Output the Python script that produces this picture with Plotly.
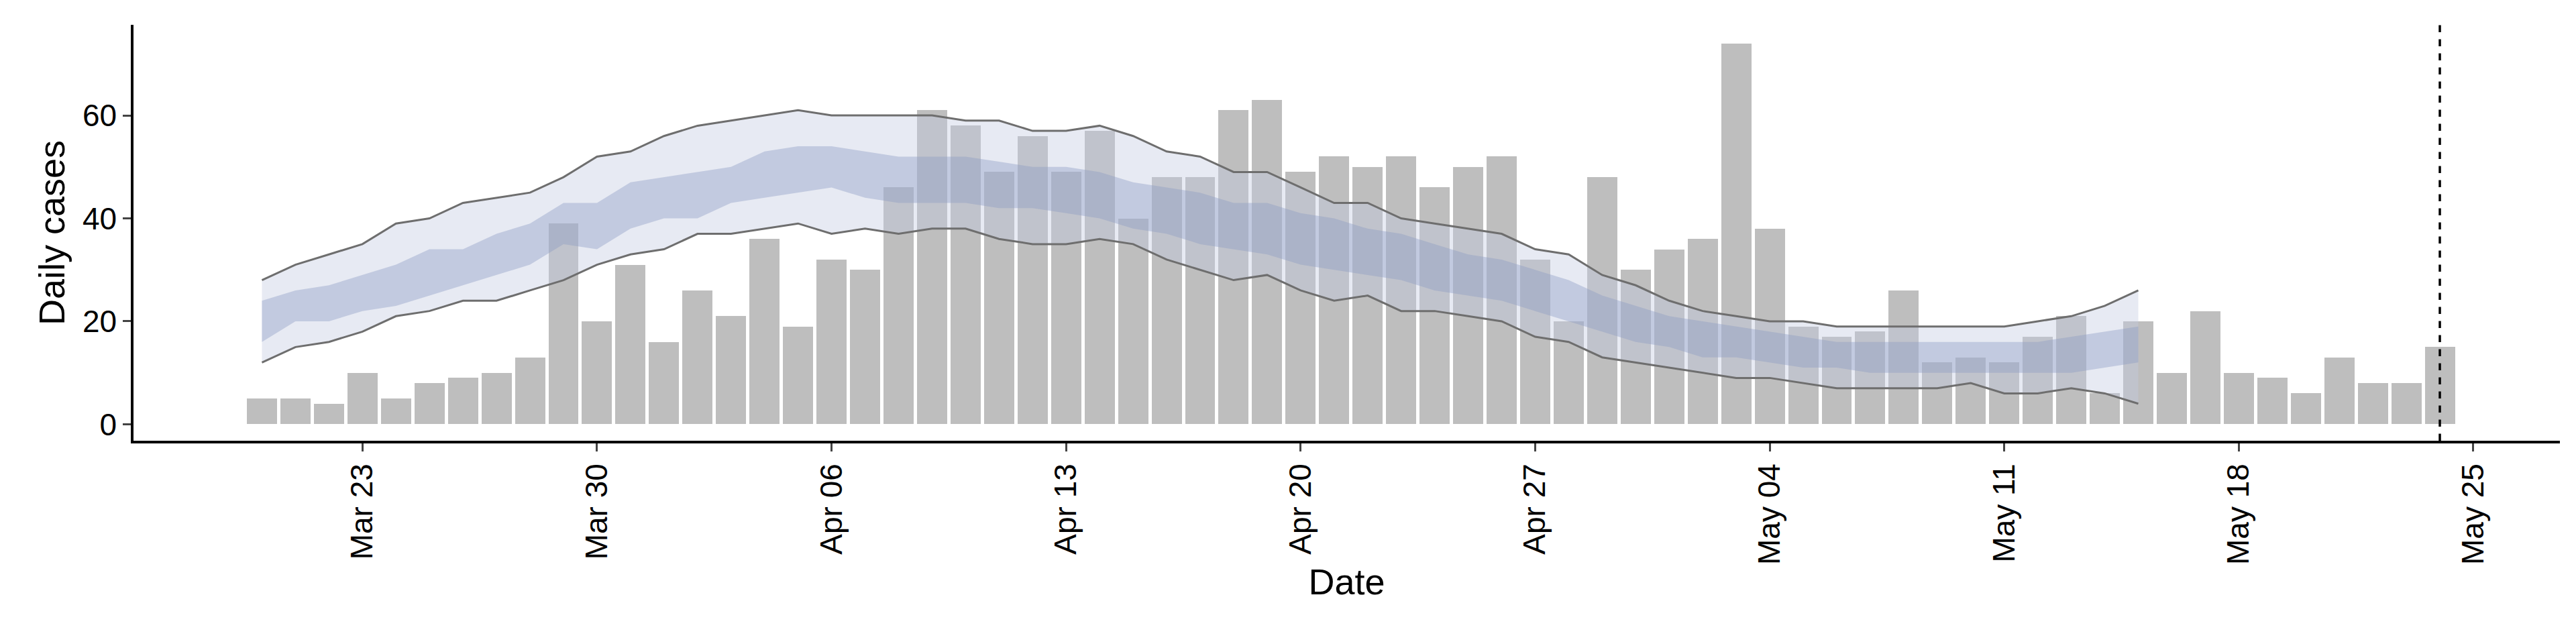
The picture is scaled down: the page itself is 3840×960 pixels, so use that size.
import pandas as pd
import plotly.graph_objects as go

# daily reported cases, Mar 20 - May 24
cases = [5, 5, 4, 10, 5, 8, 9, 10, 13, 39, 20, 31,
         16, 26, 21, 36, 19, 32, 30, 46, 61, 58, 49, 56, 49, 57, 40, 48, 48, 61,
         63, 49, 52, 50, 52, 46, 50, 52, 32, 20, 48, 30,
         34, 36, 74, 38, 19, 17, 18, 26, 12, 13, 12, 17, 21, 6, 20, 10, 22, 10,
         9, 6, 13, 8, 8, 15]
case_dates = pd.date_range("2020-03-20", periods=len(cases), freq="D")

# model bands, Mar 20 - May 15
outer_hi = [28, 31, 33, 35, 39, 40, 43, 44, 45, 48, 52, 53, 56, 58, 59, 60, 61, 60, 60, 60,
            60, 59, 59, 57, 57, 58, 56, 53, 52, 49, 49, 46, 43, 43, 40, 39, 38, 37, 34, 33,
            29, 27, 24, 22, 21, 20, 20, 19, 19, 19, 19, 19, 19, 20, 21, 23, 26]
outer_lo = [12, 15, 16, 18, 21, 22, 24, 24, 26, 28, 31, 33, 34, 37, 37, 38, 39, 37, 38, 37,
            38, 38, 36, 35, 35, 36, 35, 32, 30, 28, 29, 26, 24, 25, 22, 22, 21, 20, 17, 16,
            13, 12, 11, 10, 9, 9, 8, 7, 7, 7, 7, 8, 6, 6, 7, 6, 4]
mid_hi = [24, 26, 27, 29, 31, 34, 34, 37, 39, 43, 43, 47, 48, 49, 50, 53, 54, 54, 53, 52,
          52, 52, 51, 50, 50, 49, 47, 46, 45, 43, 43, 41, 40, 38, 37, 35, 33, 32, 30, 28,
          25, 23, 21, 20, 19, 18, 17, 16, 16, 16, 16, 16, 16, 16, 17, 18, 19]
mid_lo = [16, 20, 20, 22, 23, 25, 27, 29, 31, 35, 34, 38, 40, 40, 43, 44, 45, 46, 44, 43,
          43, 43, 42, 42, 41, 40, 38, 37, 35, 34, 33, 31, 30, 29, 28, 26, 25, 24, 22, 20,
          18, 16, 15, 13, 13, 12, 11, 11, 10, 10, 10, 10, 10, 10, 10, 11, 12]
band_dates = pd.date_range("2020-03-20", periods=len(outer_hi), freq="D")

tick_dates = pd.date_range("2020-03-23", "2020-05-25", freq="7D")
cutoff = "2020-05-24"

fig = go.Figure()
fig.add_trace(go.Bar(x=case_dates, y=cases, marker_color="#bebebe",
                     marker_line_width=0, width=0.9 * 86400000))
fig.add_trace(go.Scatter(x=band_dates, y=outer_lo, mode="lines",
                         line=dict(color="#6e6e6e", width=3)))
fig.add_trace(go.Scatter(x=band_dates, y=outer_hi, mode="lines", fill="tonexty",
                         fillcolor="rgba(196,202,224,0.4)",
                         line=dict(color="#6e6e6e", width=3)))
fig.add_trace(go.Scatter(x=band_dates, y=mid_lo, mode="lines", line=dict(width=0)))
fig.add_trace(go.Scatter(x=band_dates, y=mid_hi, mode="lines", fill="tonexty",
                         fillcolor="rgba(140,155,195,0.4)", line=dict(width=0)))
fig.add_vline(x=cutoff, line=dict(color="black", width=3.5, dash="dash"))

fig.update_layout(
    width=3840, height=960, showlegend=False, bargap=0,
    plot_bgcolor="white", paper_bgcolor="white",
    font=dict(family="Liberation Sans, Arial", size=46, color="black"),
    margin=dict(l=191, r=32, t=29, b=311),
)
fig.update_xaxes(
    range=["2020-03-16 04:00", "2020-05-27 14:00"],
    tickvals=tick_dates, ticktext=[d.strftime("%b %d") for d in tick_dates],
    tickangle=-90, ticks="outside", ticklen=12, tickwidth=3,
    showline=True, linecolor="black", linewidth=3.5, showgrid=False,
    title=dict(text="Date", font=dict(size=54), standoff=8),
)
fig.update_yaxes(
    range=[-3.2, 77.6], tickvals=[0, 20, 40, 60], ticks="outside", ticklen=12,
    tickwidth=3, showline=True, linecolor="black", linewidth=3.5, showgrid=False,
    zeroline=False, title=dict(text="Daily cases", font=dict(size=54), standoff=10),
)

fig.write_html("out.html")
